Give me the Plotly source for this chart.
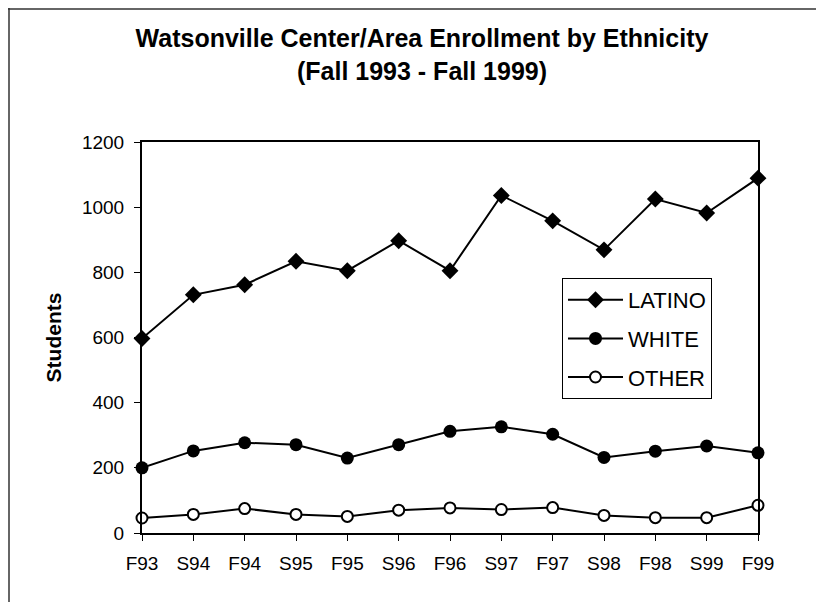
import plotly.graph_objects as go

terms = ["F93", "S94", "F94", "S95", "F95", "S96", "F96", "S97", "F97", "S98", "F98", "S99", "F99"]
latino = [597, 731, 762, 834, 805, 897, 805, 1036, 958, 869, 1025, 982, 1089]
white = [200, 252, 277, 271, 230, 271, 312, 326, 303, 232, 251, 267, 246]
other = [46, 57, 75, 57, 51, 70, 77, 72, 78, 54, 47, 47, 85]
y_ticks = [0, 200, 400, 600, 800, 1000, 1200]

FONT = "Liberation Sans, Arial, sans-serif"

W, H = 816, 594
L, R, T, B = 134, 66, 134, 69
PW, PH = W - L - R, H - T - B

fig = go.Figure()
fig.add_trace(go.Scatter(
    x=terms, y=latino, name="LATINO", mode="lines+markers", legendgroup="a",
    line=dict(color="black", width=2),
    marker=dict(symbol="diamond", size=13, color="black"), cliponaxis=False))
fig.add_trace(go.Scatter(
    x=terms, y=white, name="WHITE", mode="lines+markers", legendgroup="b",
    line=dict(color="black", width=2),
    marker=dict(symbol="circle", size=13, color="black"), cliponaxis=False))
fig.add_trace(go.Scatter(
    x=terms, y=other, name="OTHER", mode="lines+markers", legendgroup="c",
    line=dict(color="black", width=2),
    marker=dict(symbol="circle", size=11, color="white", line=dict(color="black", width=2)),
    cliponaxis=False))

fig.update_layout(
    width=W, height=H,
    margin=dict(l=L, r=R, t=T, b=B),
    paper_bgcolor="white", plot_bgcolor="white",
    font=dict(family=FONT, color="black", size=20),
    title=dict(
        text="<b>Watsonville Center/Area Enrollment by Ethnicity<br>(Fall 1993 - Fall 1999)</b>",
        x=(422 - 8) / W, xanchor="center", xref="container",
        y=1 - 39 / H, yanchor="top", yref="container",
        font=dict(family=FONT, size=25, color="black")),
    showlegend=True,
    legend=dict(
        x=(554 - L) / PW, y=(T + PH - 270) / PH, xanchor="left", yanchor="top",
        bordercolor="black", borderwidth=1, bgcolor="white",
        font=dict(family=FONT, size=22, color="black"),
        tracegroupgap=7, itemwidth=55, traceorder="grouped"),
    xaxis=dict(
        type="category", categoryorder="array", categoryarray=terms,
        range=[0, len(terms) - 1],
        showline=True, linecolor="black", linewidth=2, mirror=True,
        showgrid=False, zeroline=False,
        ticks="outside", ticklen=6, tickcolor="black", tickwidth=1,
        ticklabelstandoff=6,
        tickfont=dict(family=FONT, size=19, color="black")),
    yaxis=dict(
        range=[0, 1200], tickvals=y_ticks, ticktext=[str(v) for v in y_ticks],
        showline=True, linecolor="black", linewidth=2, mirror=True,
        showgrid=False, zeroline=False,
        ticks="outside", ticklen=6, tickcolor="black", tickwidth=1,
        ticklabelstandoff=6,
        tickfont=dict(family=FONT, size=19, color="black"),
        title=dict(text="<b>Students</b>", font=dict(family=FONT, size=21, color="black"),
                   standoff=15)),
    shapes=[
        dict(type="line", xref="paper", yref="paper",
             x0=(0 - L) / PW, x1=(W - L) / PW,
             y0=(T + PH - 1) / PH, y1=(T + PH - 1) / PH,
             line=dict(color="#333", width=1.5)),
        dict(type="line", xref="paper", yref="paper",
             x0=(1 - L) / PW, x1=(1 - L) / PW,
             y0=(T + PH) / PH, y1=(T + PH - H) / PH,
             line=dict(color="#333", width=1.5)),
    ],
)

fig.write_html("out.html")
